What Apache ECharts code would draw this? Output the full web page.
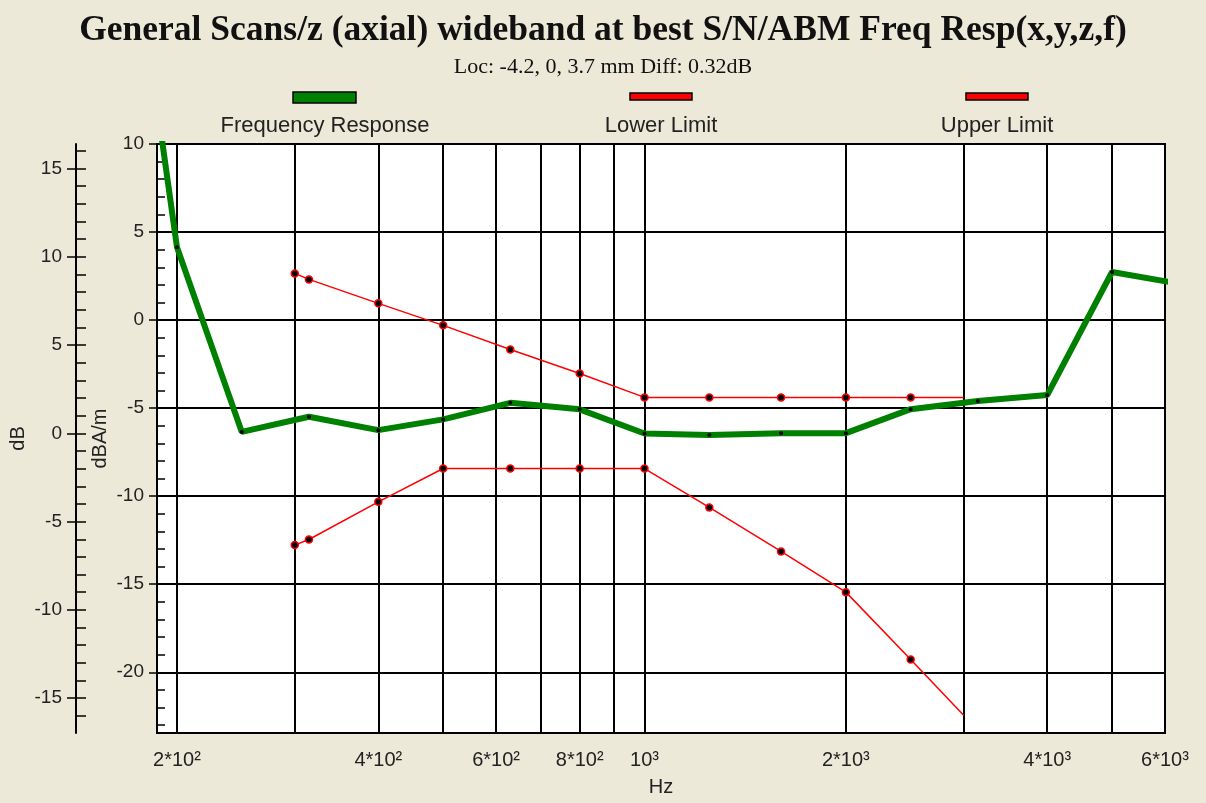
<!DOCTYPE html>
<html><head><meta charset="utf-8">
<script src="https://cdn.jsdelivr.net/npm/echarts@6/dist/echarts.min.js"></script>
<style>html,body{margin:0;padding:0;background:#ECE9D8;} #c{width:1206px;height:803px;}</style>
</head><body><div id="c"></div>
<script>
// ---- data ----
const respFreq   = [160, 200, 250, 315, 400, 500, 630, 800, 1000, 1250, 1600, 2000, 2500, 3150, 4000, 5000, 6300];
const respValues = [30.5, 4.13, -6.35, -5.49, -6.25, -5.64, -4.70, -5.07, -6.44, -6.53, -6.42, -6.42, -5.06, -4.60, -4.26, 2.73, 2.07];
const limitFreq   = [300, 315, 400, 500, 630, 800, 1000, 1250, 1600, 2000, 2500, 3000];
const upperValues = [2.65, 2.31, 0.95, -0.30, -1.67, -3.03, -4.39, -4.39, -4.39, -4.39, -4.39, -4.39];
const lowerValues = [-12.78, -12.46, -10.32, -8.43, -8.43, -8.43, -8.43, -10.64, -13.14, -15.45, -19.28, -22.44];
const limitMarked = [true, true, true, true, true, true, true, true, true, true, true, false];
// ---- axis ticks ----
const gridFreq  = [200, 300, 400, 500, 600, 700, 800, 900, 1000, 2000, 3000, 4000, 5000, 6000];
const labelFreq = [200, 400, 600, 800, 1000, 2000, 4000, 6000];
const labelText = ['2*10²', '4*10²', '6*10²', '8*10²', '10³', '2*10³', '4*10³', '6*10³'];
const innerMajor = [-20, -15, -10, -5, 0, 5, 10];
const innerMinor = [-23,-22,-21,-20,-19,-18,-17,-16,-15,-14,-13,-12,-11,-10,-9,-8,-7,-6,-5,-4,-3,-2,-1,0,1,2,3,4,5,6,7,8,9];
const outerMajor = [-15, -10, -5, 0, 5, 10, 15];
const outerMinor = [-16,-15,-14,-13,-12,-11,-10,-9,-8,-7,-6,-5,-4,-3,-2,-1,0,1,2,3,4,5,6,7,8,9,10,11,12,13,14,15,16];

const lg = Math.log10;
const xMin = lg(186.7), xMax = lg(6000);
const innerMin = -23.45, innerMax = 10;
const outerMin = -16.97, outerMax = 16.38;

const sans = 'Liberation Sans, Arial, sans-serif';
const serif = 'Liberation Serif, Times New Roman, serif';
const txt = '#222';

function xLabel(v) {
  for (let i = 0; i < labelFreq.length; i++) if (Math.abs(lg(labelFreq[i]) - v) < 1e-6) return labelText[i];
  return '';
}

const chart = echarts.init(document.getElementById('c'), null, {renderer: 'canvas'});
const option = {
  animation: false,
  backgroundColor: '#ECE9D8',
  title: {
    text: 'General Scans/z (axial) wideband at best S/N/ABM Freq Resp(x,y,z,f)',
    subtext: 'Loc: -4.2, 0, 3.7 mm Diff: 0.32dB',
    left: 'center', top: 8, itemGap: 7,
    textStyle: {fontFamily: serif, fontWeight: 'bold', fontSize: 35.5, color: '#111'},
    subtextStyle: {fontFamily: serif, fontSize: 22, color: '#111'}
  },
  grid: {left: 157, top: 144, right: 41, bottom: 70, outerBoundsMode: 'none', containLabel: false,
         show: true, backgroundColor: '#fff', borderColor: '#000', borderWidth: 2},
  xAxis: [
    {type: 'value', min: xMin, max: xMax, position: 'bottom',
     axisLine: {show: true, lineStyle: {color: '#000', width: 2}},
     axisTick: {show: false, customValues: gridFreq.map(lg)},
     axisLabel: {show: false},
     splitLine: {show: true, lineStyle: {color: '#000', width: 2}}},
    {type: 'value', min: xMin, max: xMax, position: 'bottom',
     axisLine: {show: false},
     axisTick: {show: true, length: 14, customValues: labelFreq.map(lg), lineStyle: {color: '#000', width: 1.5}},
     axisLabel: {show: true, customValues: labelFreq.map(lg), formatter: xLabel, margin: 17,
                 fontFamily: sans, fontSize: 20, color: txt},
     splitLine: {show: false},
     name: 'Hz', nameLocation: 'middle', nameGap: 44, nameMoveOverlap: false,
     nameTextStyle: {fontFamily: sans, fontSize: 20, color: txt}}
  ],
  yAxis: [
    {type: 'value', min: innerMin, max: innerMax, position: 'left',
     axisLine: {show: true, lineStyle: {color: '#000', width: 2}},
     axisTick: {show: true, length: 8, customValues: innerMajor, lineStyle: {color: '#000', width: 1.5}},
     axisLabel: {show: true, customValues: innerMajor, margin: 13, fontFamily: sans, fontSize: 19, color: txt},
     splitLine: {show: true, lineStyle: {color: '#000', width: 2}},
     name: 'dBA/m', nameLocation: 'middle', nameGap: 47, nameRotate: 90, nameMoveOverlap: false,
     nameTextStyle: {fontFamily: sans, fontSize: 20, color: txt}},
    {type: 'value', min: innerMin, max: innerMax, position: 'left',
     axisLine: {show: false},
     axisTick: {show: true, inside: true, length: 8, customValues: innerMinor, lineStyle: {color: '#000', width: 1.5}},
     axisLabel: {show: false}, splitLine: {show: false}},
    {type: 'value', min: outerMin, max: outerMax, position: 'left', offset: 81,
     axisLine: {show: true, lineStyle: {color: '#000', width: 2}},
     axisTick: {show: true, length: 9, customValues: outerMajor, lineStyle: {color: '#000', width: 1.5}},
     axisLabel: {show: true, customValues: outerMajor, margin: 14, fontFamily: sans, fontSize: 19, color: txt},
     splitLine: {show: false},
     name: 'dB', nameLocation: 'middle', nameGap: 48, nameRotate: 90, nameMoveOverlap: false,
     nameTextStyle: {fontFamily: sans, fontSize: 20, color: txt}},
    {type: 'value', min: outerMin, max: outerMax, position: 'left', offset: 81,
     axisLine: {show: false},
     axisTick: {show: true, inside: true, length: 10, customValues: outerMinor, lineStyle: {color: '#000', width: 1.5}},
     axisLabel: {show: false}, splitLine: {show: false}}
  ],
  series: [
    {name: 'Frequency Response', type: 'line', xAxisIndex: 0, yAxisIndex: 0,
     data: respFreq.map((f, i) => [lg(f), respValues[i]]),
     symbol: 'circle', symbolSize: 4, showAllSymbol: true,
     lineStyle: {color: '#008000', width: 6},
     itemStyle: {color: '#000'}, emphasis: {disabled: true}, z: 3},
    {name: 'Lower Limit', type: 'line', xAxisIndex: 0, yAxisIndex: 0,
     data: limitFreq.map((f, i) => limitMarked[i] ? [lg(f), lowerValues[i]] : {value: [lg(f), lowerValues[i]], symbol: 'none'}),
     symbol: 'circle', symbolSize: 7, showAllSymbol: true,
     lineStyle: {color: '#ff0000', width: 1.5},
     itemStyle: {color: '#000', borderColor: '#ff0000', borderWidth: 1.5}, emphasis: {disabled: true}, z: 4},
    {name: 'Upper Limit', type: 'line', xAxisIndex: 0, yAxisIndex: 0,
     data: limitFreq.map((f, i) => limitMarked[i] ? [lg(f), upperValues[i]] : {value: [lg(f), upperValues[i]], symbol: 'none'}),
     symbol: 'circle', symbolSize: 7, showAllSymbol: true,
     lineStyle: {color: '#ff0000', width: 1.5},
     itemStyle: {color: '#000', borderColor: '#ff0000', borderWidth: 1.5}, emphasis: {disabled: true}, z: 4}
  ],
  graphic: [
    {type: 'rect', shape: {x: 293, y: 92, width: 63, height: 11}, style: {fill: '#008000', stroke: '#000', lineWidth: 1.5}},
    {type: 'rect', shape: {x: 630, y: 93, width: 62, height: 7}, style: {fill: '#ff0000', stroke: '#000', lineWidth: 1.5}},
    {type: 'rect', shape: {x: 966, y: 93, width: 62, height: 7}, style: {fill: '#ff0000', stroke: '#000', lineWidth: 1.5}},
    {type: 'text', x: 325, y: 126, style: {text: 'Frequency Response', font: '22px ' + sans, fill: txt, align: 'center', verticalAlign: 'middle'}},
    {type: 'text', x: 661, y: 126, style: {text: 'Lower Limit', font: '22px ' + sans, fill: txt, align: 'center', verticalAlign: 'middle'}},
    {type: 'text', x: 997, y: 126, style: {text: 'Upper Limit', font: '22px ' + sans, fill: txt, align: 'center', verticalAlign: 'middle'}}
  ]
};
chart.setOption(option);
</script>
</body></html>
